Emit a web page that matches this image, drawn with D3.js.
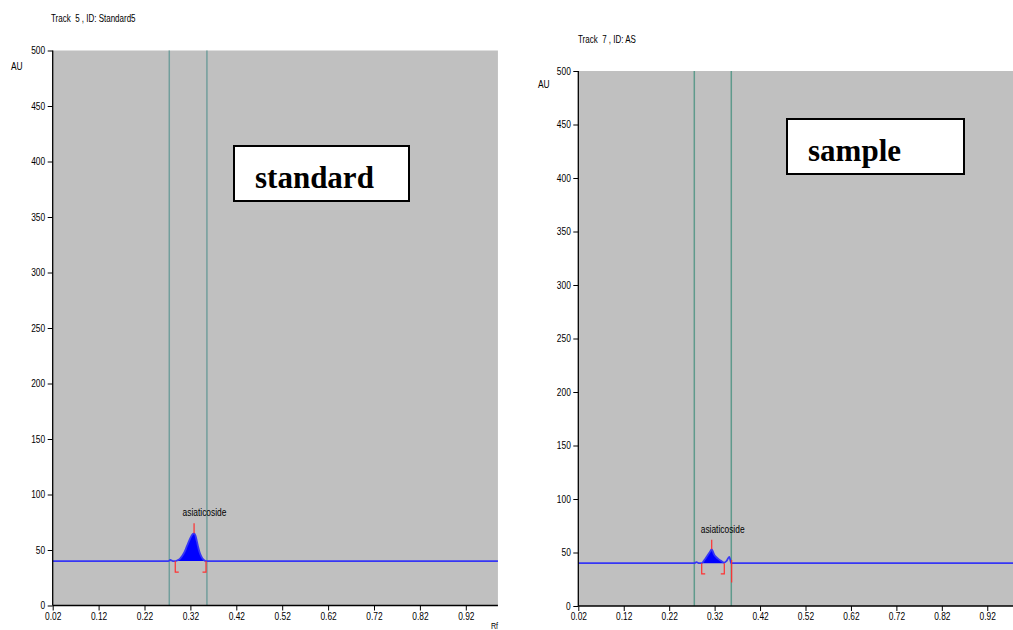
<!DOCTYPE html>
<html>
<head>
<meta charset="utf-8">
<script src="https://cdn.jsdelivr.net/npm/d3@7"></script>
<style>
  html, body { margin: 0; padding: 0; background: #ffffff; }
  svg { display: block; }
  .small { font-family: "Liberation Sans", Arial, sans-serif; fill: #000; white-space: pre; }
  .boxlabel { font-family: "Liberation Serif", "Times New Roman", serif; font-weight: bold; fill: #000; }
</style>
</head>
<body>
<svg id="chart" width="1013" height="630"></svg>
<script>
// ---------------- data ----------------
const xTicks = [0.02, 0.12, 0.22, 0.32, 0.42, 0.52, 0.62, 0.72, 0.82, 0.92];
const yTicks = [0, 50, 100, 150, 200, 250, 300, 350, 400, 450, 500];
const xDomain = [0.02, 0.99];
const yDomain = [0, 500];

const titles = ["Track  5 , ID: Standard5", "Track  7 , ID: AS"];
const boxLabels = ["standard", "sample"];
const peakNames = ["asiaticoside", "asiaticoside"];

// Standard (track 5) densitogram
const stdRf = [0.02, 0.272, 0.276, 0.282, 0.287, 0.292, 0.297, 0.302, 0.307, 0.312, 0.317, 0.322, 0.326, 0.328, 0.331, 0.334, 0.337, 0.340, 0.344, 0.348, 0.354, 0.99];
const stdAU = [40, 40, 41, 40, 40, 40.8, 42, 44.5, 48, 53, 58, 62.5, 64.6, 65, 63, 58, 52.5, 48, 44, 41.5, 40, 40];
const stdPeak = [0.287, 0.328, 0.354];    // start, apex, end (Rf)
const stdWindow = [0.274, 0.356];         // vertical window lines (Rf)

// Sample (track 7) densitogram
const smpRf = [0.02, 0.275, 0.280, 0.286, 0.2916, 0.296, 0.300, 0.304, 0.308, 0.311, 0.3136, 0.316, 0.319, 0.323, 0.328, 0.333, 0.3413, 0.346, 0.3523, 0.3567, 0.99];
const smpAU = [40, 40, 41, 40, 40, 42, 44.5, 47, 49.5, 51.5, 53, 51, 48, 46, 44, 42.5, 40.5, 42, 46, 40, 40];
const smpPeak = [0.2916, 0.3136, 0.3413];
const smpWindow = [0.2753, 0.3567];

// ---------------- layout ----------------
const panels = [
  { rf: stdRf, au: stdAU, peak: stdPeak, win: stdWindow, title: titles[0], box: boxLabels[0], name: peakNames[0],
    x0: 52.7, xUnit: 459, yTop: 50.5, yBot: 605.5, winColor: "#729e9c",
    titlePos: [51, 22], auPos: [11, 70], boxRect: [234, 146, 175, 55], boxText: [255, 188],
    labelDx: -11.5, labelY: 516, extraRed: null, rfLabel: true },
  { rf: smpRf, au: smpAU, peak: smpPeak, win: smpWindow, title: titles[1], box: boxLabels[1], name: peakNames[1],
    x0: 578.3, xUnit: 454.4, yTop: 71, yBot: 606, winColor: "#5f9a8c",
    titlePos: [578, 43], auPos: [538, 88], boxRect: [787, 119, 177, 55], boxText: [808, 161],
    labelDx: -11, labelY: 533, extraRed: [0.3575, 43, 22], rfLabel: false }
];

const NARROW = 0.8;
const svg = d3.select("#chart");

function narrowText(sel, px, py) {
  // horizontally condensed small text anchored at (px, py)
  return sel.attr("x", 0).attr("y", 0)
    .attr("transform", `translate(${px},${py}) scale(${NARROW},1)`);
}

panels.forEach(p => {
  const x = d3.scaleLinear().domain(xDomain).range([p.x0, p.x0 + p.xUnit * (xDomain[1] - xDomain[0])]);
  const y = d3.scaleLinear().domain(yDomain).range([p.yBot, p.yTop]);
  const g = svg.append("g");

  // plot background
  g.append("rect")
    .attr("x", x(xDomain[0])).attr("y", y(yDomain[1]))
    .attr("width", x(xDomain[1]) - x(xDomain[0]))
    .attr("height", y(yDomain[0]) - y(yDomain[1]))
    .attr("fill", "#c0c0c0");

  // window lines
  g.selectAll(".win").data(p.win).enter().append("line")
    .attr("x1", d => x(d)).attr("x2", d => x(d))
    .attr("y1", y(yDomain[1])).attr("y2", y(yDomain[0]))
    .attr("stroke", p.winColor).attr("stroke-width", 1.5);

  // filled peak area
  const pts = p.rf.map((r, i) => [r, p.au[i]]);
  const peakPts = pts.filter(d => d[0] >= p.peak[0] && d[0] <= p.peak[2]);
  const base = p.au[0];
  g.append("path")
    .datum(peakPts)
    .attr("d", d3.area().curve(d3.curveMonotoneX).x(d => x(d[0])).y0(y(base)).y1(d => y(d[1])))
    .attr("fill", "#0000ff");

  // densitogram line
  g.append("path")
    .datum(pts)
    .attr("d", d3.line().curve(d3.curveMonotoneX).x(d => x(d[0])).y(d => y(d[1])))
    .attr("fill", "none").attr("stroke", "#3636f5").attr("stroke-width", 1.8);

  // red peak markers
  const apexAU = p.au[p.rf.indexOf(p.peak[1])];
  const red = "#ff3030";
  g.append("line")
    .attr("x1", x(p.peak[1])).attr("x2", x(p.peak[1]))
    .attr("y1", y(apexAU)).attr("y2", y(apexAU + 9))
    .attr("stroke", red).attr("stroke-width", 1.2);
  [[p.peak[0], 1], [p.peak[2], -1]].forEach(([r, dir]) => {
    const bx = x(r);
    g.append("path")
      .attr("d", `M${bx},${y(base)}V${y(base - 10)}h${dir * 3.5}`)
      .attr("fill", "none").attr("stroke", red).attr("stroke-width", 1.2);
  });
  if (p.extraRed) {
    g.append("line")
      .attr("x1", x(p.extraRed[0])).attr("x2", x(p.extraRed[0]))
      .attr("y1", y(p.extraRed[1])).attr("y2", y(p.extraRed[2]))
      .attr("stroke", red).attr("stroke-width", 1.2);
  }

  // peak name
  narrowText(g.append("text").attr("class", "small").attr("font-size", 10.5).text(p.name),
    x(p.peak[1]) + p.labelDx, p.labelY);

  // axes
  const yAxis = d3.axisLeft(y).tickValues(yTicks).tickSize(5).tickPadding(2).tickFormat(d3.format("d"));
  const xAxis = d3.axisBottom(x).tickValues(xTicks).tickSize(5).tickPadding(2).tickFormat(d3.format(".2f"));
  const ya = g.append("g").attr("transform", `translate(${x(xDomain[0])},0)`).call(yAxis);
  const xa = g.append("g").attr("transform", `translate(0,${y(0)})`).call(xAxis);
  [ya, xa].forEach(a => {
    a.select(".domain").attr("stroke", "#000").attr("stroke-width", 1.3);
    a.selectAll(".tick line").attr("stroke", "#000");
    a.selectAll("text").attr("class", "small").attr("font-size", 10.5)
      .attr("font-family", null).attr("fill", "#000");
  });
  ya.selectAll(".tick text").attr("x", -7.5 / NARROW).attr("transform", `scale(${NARROW},1)`);
  xa.selectAll(".tick text").attr("transform", `scale(${NARROW},1)`);
  ya.select(".domain").attr("d", `M0,${y(yDomain[1])}V${y(yDomain[0])}`);
  xa.select(".domain").attr("d", `M${x(xDomain[0])},0H${x(xDomain[1])}`);

  // title, AU label, Rf label
  narrowText(g.append("text").attr("class", "small").attr("font-size", 10).text(p.title), p.titlePos[0], p.titlePos[1]);
  narrowText(g.append("text").attr("class", "small").attr("font-size", 10.5).text("AU"), p.auPos[0], p.auPos[1]);
  if (p.rfLabel) {
    narrowText(g.append("text").attr("class", "small").attr("font-size", 9).text("Rf"), x(xDomain[1]) - 7, 629);
  }

  // annotation box
  g.append("rect")
    .attr("x", p.boxRect[0]).attr("y", p.boxRect[1])
    .attr("width", p.boxRect[2]).attr("height", p.boxRect[3])
    .attr("fill", "#ffffff").attr("stroke", "#000").attr("stroke-width", 2);
  g.append("text").attr("class", "boxlabel")
    .attr("x", p.boxText[0]).attr("y", p.boxText[1])
    .attr("font-size", 31).text(p.box);
});
</script>
</body>
</html>
